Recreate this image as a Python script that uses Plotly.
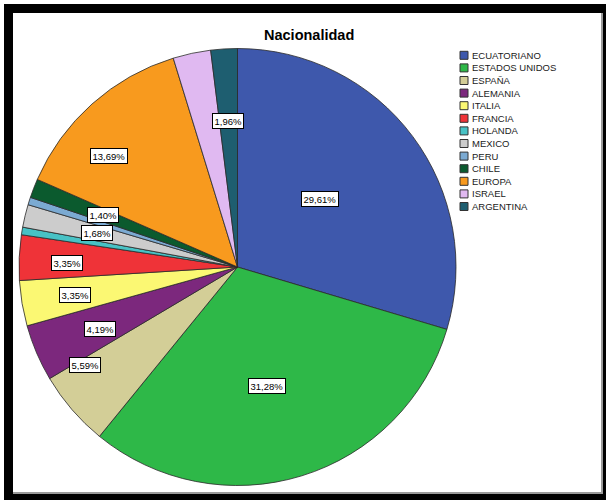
import math
import plotly.graph_objects as go

# ---- data ----
categories = ["ECUATORIANO", "ESTADOS UNIDOS", "ESPAÑA", "ALEMANIA", "ITALIA",
              "FRANCIA", "HOLANDA", "MEXICO", "PERU", "CHILE", "EUROPA",
              "ISRAEL", "ARGENTINA"]
percentages = [29.61, 31.28, 5.59, 4.19, 3.35, 3.35, 0.56, 1.68, 0.56, 1.40,
               13.69, 2.79, 1.96]
show_label = [True, True, True, True, True, True, False, True, False, True,
              True, False, True]
title_text = "Nacionalidad"

# ---- style ----
colors = ["#3E58AC", "#2EB848", "#D3CE97", "#7C287D", "#FBF873", "#EF3338",
          "#48C2C5", "#CCCCCC", "#7BAAD2", "#0B5A2E", "#F89A1E", "#E0B9F1",
          "#1E5E70"]
label_radius = [0.49, 0.56, 0.83, 0.69, 0.756, 0.78, 0.7, 0.66, 0.7, 0.66,
                0.775, 0.7, 0.67]
label_angle_shift = [-3, 3, 8, -1, 0, -1, 0, 0, 0, 0, -7.5, 0, 0]

W, H = 606, 500
cx, cy, R = 237.5, 267.0, 218.5
FONT = "Liberation Sans, Arial, sans-serif"


def px(x):
    return x / W


def py(y):
    return 1 - y / H


fig = go.Figure(go.Pie(
    labels=categories,
    values=percentages,
    sort=False,
    direction="clockwise",
    rotation=0,
    marker=dict(colors=colors, line=dict(color="#2a2a2a", width=0.8)),
    textinfo="none",
    hoverinfo="label+percent",
    showlegend=False,
    domain=dict(x=[px(cx - R), px(cx + R)], y=[py(cy + R), py(cy - R)]),
))

shapes = [
    # outer black frame
    dict(type="rect", xref="paper", yref="paper", x0=px(4), x1=px(W + 2),
         y0=py(H + 2), y1=py(4), fillcolor="#000000", line=dict(width=0),
         layer="below"),
    dict(type="rect", xref="paper", yref="paper", x0=px(13), x1=px(603),
         y0=py(494), y1=py(13), fillcolor="#9a9a9a", line=dict(width=0),
         layer="below"),
    dict(type="rect", xref="paper", yref="paper", x0=px(13), x1=px(601),
         y0=py(492), y1=py(13), fillcolor="#ffffff", line=dict(width=0),
         layer="below"),
]

annotations = []

# slice labels
total = sum(percentages)
cum = 0.0
for i, v in enumerate(percentages):
    mid = 360.0 * (cum + v / 2) / total + label_angle_shift[i]
    cum += v
    if not show_label[i]:
        continue
    r = label_radius[i] * R
    lx = cx + r * math.sin(math.radians(mid))
    ly = cy - r * math.cos(math.radians(mid))
    annotations.append(dict(
        x=px(lx), y=py(ly), xref="paper", yref="paper",
        text=f"{v:.2f}".replace(".", ",") + "%",
        showarrow=False, xanchor="center", yanchor="middle",
        font=dict(family=FONT, size=9.5, color="#000000"),
        bgcolor="#ffffff", bordercolor="#000000", borderwidth=1, borderpad=1.5,
    ))

# manual legend
row0, step = 55.3, 12.6
for i, name in enumerate(categories):
    yc = row0 + step * i
    shapes.append(dict(type="rect", xref="paper", yref="paper",
                       x0=px(460), x1=px(468), y0=py(yc + 4), y1=py(yc - 4),
                       fillcolor=colors[i], line=dict(color="#333333", width=1),
                       layer="above"))
    annotations.append(dict(
        x=px(469.5), y=py(yc), xref="paper", yref="paper", text=name,
        showarrow=False, xanchor="left", yanchor="middle",
        font=dict(family=FONT, size=9.5, color="#1a1a1a"),
    ))

# title
annotations.append(dict(
    x=px(309), y=py(35), xref="paper", yref="paper",
    text="<b>" + title_text + "</b>", showarrow=False,
    xanchor="center", yanchor="middle",
    font=dict(family=FONT, size=14.5, color="#000000"),
))

fig.update_layout(
    width=W, height=H,
    margin=dict(l=0, r=0, t=0, b=0),
    paper_bgcolor="#ffffff",
    plot_bgcolor="#ffffff",
    shapes=shapes,
    annotations=annotations,
)

fig.write_html("out.html", config={"displayModeBar": False})

# remove the default page margin so the figure sits at the window's origin
with open("out.html", "r", encoding="utf-8") as f:
    html = f.read()
html = html.replace("<head>", "<head><style>html,body{margin:0;padding:0;overflow:hidden;}</style>", 1)
with open("out.html", "w", encoding="utf-8") as f:
    f.write(html)
